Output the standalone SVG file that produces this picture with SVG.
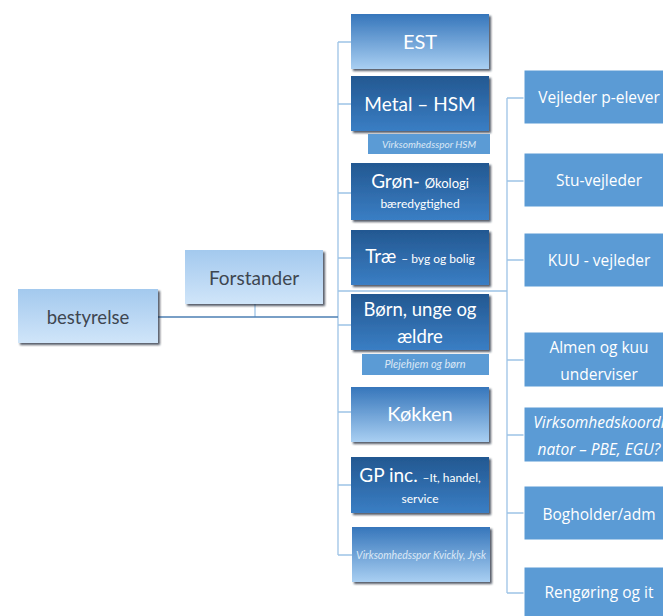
<svg xmlns="http://www.w3.org/2000/svg" width="663" height="616" viewBox="0 0 663 616">
<style>
.lt{font-family:Lato,"Open Sans","DejaVu Sans",sans-serif;text-anchor:middle}
.w{fill:#ffffff}
.g{fill:#3e4650}
.it{font-style:italic;fill:#dbe8f6}
.rt{font-family:"Open Sans",Lato,"DejaVu Sans",sans-serif;text-anchor:middle;fill:#ffffff;font-size:15.5px}
.con{fill:none;stroke:#9dc3e6;stroke-width:1.3}
.dark{fill:url(#gDark);filter:url(#sh)}
.light{fill:url(#gLight);filter:url(#sh)}
.pale{fill:url(#gPale);filter:url(#sh)}
.sub{fill:#5b9bd5}
.rb{fill:#5b9bd5;stroke:#ffffff;stroke-width:1}
</style>
<defs>
<linearGradient id="gDark" x1="0" y1="0" x2="0" y2="1"><stop offset="0" stop-color="#235891"/><stop offset="1" stop-color="#3a7ec4"/></linearGradient>
<linearGradient id="gLight" x1="0" y1="0" x2="0" y2="1"><stop offset="0" stop-color="#3676bb"/><stop offset="1" stop-color="#a9cff2"/></linearGradient>
<linearGradient id="gPale" x1="0" y1="0" x2="0" y2="1"><stop offset="0" stop-color="#a3c9ee"/><stop offset="1" stop-color="#d0e5f9"/></linearGradient>
<filter id="sh" x="-5%" y="-5%" width="115%" height="125%"><feDropShadow dx="2" dy="2" stdDeviation="1" flood-color="#1a2430" flood-opacity="0.75"/></filter>
</defs>
<rect width="663" height="616" fill="#ffffff"/>
<g id="connectors">
<path class="con" d="M338,42 V555 M338,42 H351 M338,104 H351 M338,193 H351 M338,258 H351 M338,325 H351 M338,412 H351 M338,485 H351 M338,555 H352"/>
<path class="con" d="M338,291 H507 M507,98 V593 M507,98 H524 M507,181 H524 M507,260 H524 M507,360 H524 M507,435 H524 M507,513 H524 M507,593 H524"/>
<path class="con" d="M255,304 V317"/>
<path d="M158,317 H338" fill="none" stroke="#4d7fb3" stroke-width="1.6"/>
</g>
<g id="bestyrelse"><rect class="pale" x="18" y="289" width="140" height="54"/><text class="lt g" x="88" y="324" font-size="18.5">bestyrelse</text></g>
<g id="forstander"><rect class="pale" x="185" y="250" width="138" height="54"/><text class="lt g" x="254" y="285" font-size="19">Forstander</text></g>
<g id="est"><rect class="light" x="351" y="14" width="138" height="55"/><text class="lt w" x="420" y="49" font-size="20">EST</text></g>
<g id="metal"><rect class="dark" x="351" y="76" width="138" height="55"/><text class="lt w" x="420" y="111" font-size="19">Metal – HSM</text></g>
<g id="hsm"><rect class="sub" x="368" y="134" width="122" height="20"/><text class="lt it" x="429" y="148" font-size="10">Virksomhedsspor HSM</text></g>
<g id="groen"><rect class="dark" x="351" y="163" width="138" height="57"/><text class="lt w" x="420" y="188" font-size="19">Grøn- <tspan font-size="13">Økologi</tspan></text><text class="lt w" x="420" y="208" font-size="12">bæredygtighed</text></g>
<g id="trae"><rect class="dark" x="351" y="230" width="138" height="55"/><text class="lt w" x="420" y="263" font-size="19">Træ <tspan font-size="12">– byg og bolig</tspan></text></g>
<g id="boern"><rect class="dark" x="351" y="294" width="138" height="56"/><text class="lt w" x="420" y="316" font-size="18.5">Børn, unge og</text><text class="lt w" x="420" y="343" font-size="18.5">ældre</text></g>
<g id="plejehjem"><rect class="sub" x="362" y="354" width="127" height="21"/><text class="lt it" x="425" y="368" font-size="11">Plejehjem og børn</text></g>
<g id="koekken"><rect class="light" x="351" y="387" width="138" height="55"/><text class="lt w" x="420" y="421" font-size="20">Køkken</text></g>
<g id="gp"><rect class="dark" x="351" y="457" width="138" height="56"/><text class="lt w" x="420" y="482" font-size="19">GP inc. <tspan font-size="12">–It, handel,</tspan></text><text class="lt w" x="420" y="503" font-size="12">service</text></g>
<g id="kvickly"><rect class="light" x="352" y="527" width="138" height="55"/><text class="lt it" x="421" y="559" font-size="10.5" fill="#e8f1fa">Virksomhedsspor Kvickly, Jysk</text></g>
<g id="vejleder"><rect class="rb" x="524" y="70" width="150" height="54"/><text class="rt" x="599" y="103">Vejleder p-elever</text></g>
<g id="stu"><rect class="rb" x="524" y="153" width="150" height="54"/><text class="rt" x="599" y="186">Stu-vejleder</text></g>
<g id="kuu"><rect class="rb" x="524" y="233" width="150" height="54"/><text class="rt" x="599" y="266">KUU - vejleder</text></g>
<g id="almen"><rect class="rb" x="524" y="332" width="150" height="55"/><text class="rt" x="599" y="353">Almen og kuu</text><text class="rt" x="599" y="380">underviser</text></g>
<g id="virk"><rect class="rb" x="524" y="407" width="150" height="55"/><text class="rt" x="599" y="428" font-style="italic">Virksomhedskoordi</text><text class="rt" x="599" y="455" font-style="italic">nator – PBE, EGU?</text></g>
<g id="bogholder"><rect class="rb" x="524" y="486" width="150" height="54"/><text class="rt" x="599" y="520">Bogholder/adm</text></g>
<g id="rengoering"><rect class="rb" x="524" y="567" width="150" height="55"/><text class="rt" x="599" y="598">Rengøring og it</text></g>
</svg>
